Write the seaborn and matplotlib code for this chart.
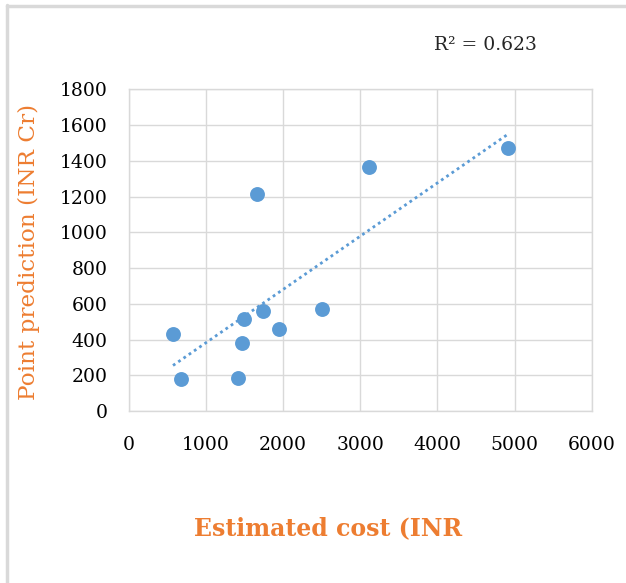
import matplotlib
matplotlib.use('Agg')
import matplotlib.pyplot as plt
import numpy as np
import pandas as pd
import seaborn as sns

# Data
estimated_cost = [574, 674, 1412, 1464, 1494, 1736, 1944, 2501, 1659, 3114, 4911]
point_prediction = [431, 181, 183, 379, 517, 560, 459, 571, 1213, 1364, 1471]
x_ticks = [0, 1000, 2000, 3000, 4000, 5000, 6000]
y_ticks = [0, 200, 400, 600, 800, 1000, 1200, 1400, 1600, 1800]
r2_label = 'R² = 0.623'

df = pd.DataFrame({'cost': estimated_cost, 'pred': point_prediction})

sns.set_style('white')
plt.rcParams['font.family'] = ['DejaVu Serif']

blue = '#5B9BD5'
orange = '#ED7D31'
grid = '#D9D9D9'

fig = plt.figure(figsize=(6.26, 5.83), dpi=100)
ax = fig.add_axes([0.2056, 0.295, 0.7396, 0.5515])

sns.regplot(data=df, x='cost', y='pred', ax=ax, ci=None, truncate=True,
            scatter_kws={'s': 115, 'color': blue, 'alpha': 1, 'linewidths': 0, 'zorder': 3},
            line_kws={'color': blue, 'ls': (0, (1, 1.3)), 'lw': 2.0, 'zorder': 2})

ax.set_xlim(0, 6000)
ax.set_ylim(0, 1800)
ax.set_xticks(x_ticks)
ax.set_yticks(y_ticks)
ax.grid(True, color=grid, lw=1.0)
ax.set_axisbelow(True)
for s in ax.spines.values():
    s.set_color(grid)
    s.set_linewidth(1.0)
ax.tick_params(length=0, labelsize=13.5, colors='black')
ax.tick_params(axis='y', pad=15)
ax.tick_params(axis='x', pad=18)

ax.set_xlabel('Estimated cost (INR', color=orange, fontsize=17, fontweight='bold')
ax.set_ylabel('Point prediction (INR Cr)', color=orange, fontsize=16.7)
ax.xaxis.set_label_coords((328 - 128.7) / 463, -(516 - 411) / 321.5)
ax.yaxis.set_label_coords(-(128.7 - 40) / 463, (411 - 252) / 321.5)

fig.text(485 / 626, 1 - 45 / 583, r2_label, fontsize=13.5, ha='center', va='center')

# light frame on the left and top edges
fig.add_artist(plt.Line2D([6.5 / 626, 6.5 / 626], [0, 1 - 5 / 583], color=grid, lw=2.5,
                          transform=fig.transFigure))
fig.add_artist(plt.Line2D([6.5 / 626, 1], [1 - 5.5 / 583, 1 - 5.5 / 583], color=grid, lw=2.5,
                          transform=fig.transFigure))

fig.savefig('out.png', dpi=100)
